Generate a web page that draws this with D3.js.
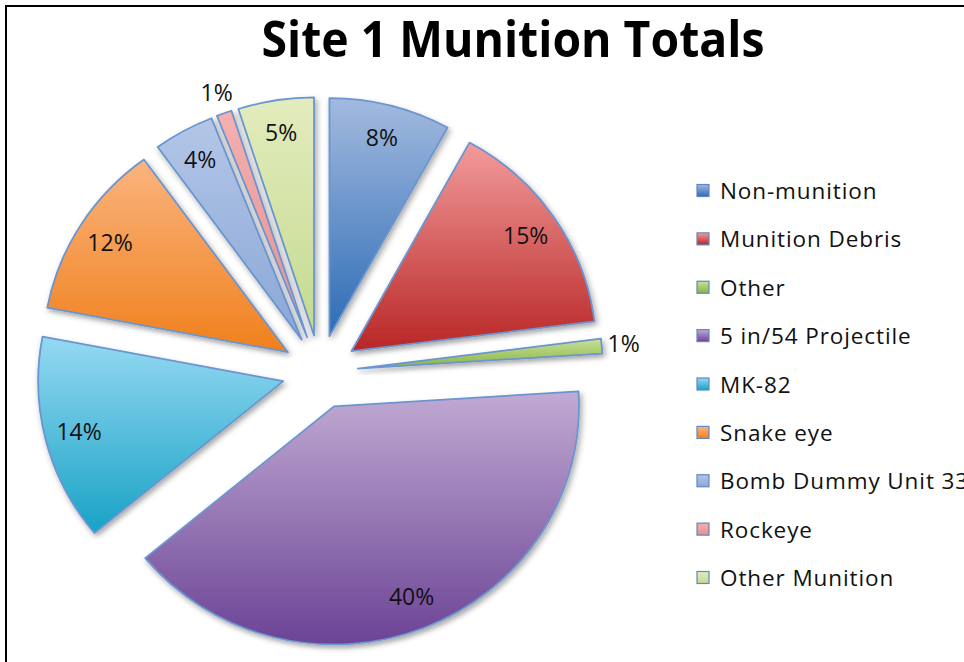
<!DOCTYPE html>
<html>
<head>
<meta charset="utf-8">
<script src="https://cdn.jsdelivr.net/npm/d3@7"></script>
<style>
  html, body { margin: 0; padding: 0; background: #fff; }
  svg { display: block; }
</style>
</head>
<body>
<svg id="chart" width="964" height="662"></svg>
<script>
// Munition categories found at Site 1 and their share of the total (%)
const categories = [
  "Non-munition", "Munition Debris", "Other", "5 in/54 Projectile",
  "MK-82", "Snake eye", "Bomb Dummy Unit 33", "Rockeye", "Other Munition"
];
const percentages = [8, 15, 1, 40, 14, 12, 4, 1, 5];

// Gradient stops per slice: lighter at the top, deeper at the bottom
const topColors    = ["#a3badf", "#f29c9b", "#c9e09a", "#c1aad3", "#95d9f3", "#fab47e", "#b3c6e6", "#f4b0af", "#e3ecbd"];
const bottomColors = ["#2c6cb5", "#b92626", "#86b43c", "#6b4395", "#18a2c5", "#f0801c", "#8aa7d7", "#e58f8e", "#c3da8f"];

const svg = d3.select("#chart");
const defs = svg.append("defs");

categories.forEach((c, i) => {
  const g = defs.append("linearGradient")
    .attr("id", "grad" + i)
    .attr("x1", 0).attr("y1", 0).attr("x2", 0).attr("y2", 1);
  g.append("stop").attr("offset", "0%").attr("stop-color", topColors[i]);
  g.append("stop").attr("offset", "100%").attr("stop-color", bottomColors[i]);
});

const shadow = defs.append("filter").attr("id", "shadow")
  .attr("x", "-20%").attr("y", "-20%").attr("width", "140%").attr("height", "140%");
shadow.append("feDropShadow")
  .attr("dx", 2).attr("dy", 3).attr("stdDeviation", 3)
  .attr("flood-color", "#000").attr("flood-opacity", 0.35);

// Chart frame
svg.append("rect")
  .attr("x", 6).attr("y", 6).attr("width", 1000).attr("height", 700)
  .attr("fill", "none").attr("stroke", "#000").attr("stroke-width", 2);

// Title
svg.append("text")
  .attr("x", 513).attr("y", 57)
  .attr("text-anchor", "middle")
  .attr("font-family", "'Open Sans', sans-serif")
  .attr("font-weight", 700)
  .attr("font-size", 51)
  .attr("textLength", 503)
  .attr("lengthAdjust", "spacingAndGlyphs")
  .attr("fill", "#000")
  .text("Site 1 Munition Totals");

// Exploded pie
const cx = 320, cy = 372, radius = 245, explode = 38, squash = 0.972;
const pie = d3.pie().sort(null).value(d => d);
const arcs = pie(percentages);
const arc = d3.arc().innerRadius(0).outerRadius(radius);

const pieG = svg.append("g")
  .attr("transform", `translate(${cx},${cy}) scale(1,${squash})`);

pieG.selectAll("path.slice")
  .data(arcs)
  .join("path")
  .attr("class", "slice")
  .attr("transform", d => {
    const a = (d.startAngle + d.endAngle) / 2;
    return `translate(${explode * Math.sin(a)},${-explode * Math.cos(a)})`;
  })
  .attr("d", arc)
  .attr("fill", (d, i) => `url(#grad${i})`)
  .attr("stroke", "#6b95d0")
  .attr("stroke-width", 1.8)
  .attr("stroke-linejoin", "round")
  .attr("filter", "url(#shadow)");

// Percentage labels: inside for normal slices, just outside for tiny ones
function labelPos(d) {
  const a = (d.startAngle + d.endAngle) / 2;
  const dist = explode + (d.value < 2 ? radius * 1.09 : radius * 0.86);
  return [cx + dist * Math.sin(a), cy - squash * dist * Math.cos(a)];
}

svg.append("g").selectAll("text")
  .data(arcs)
  .join("text")
  .attr("x", d => labelPos(d)[0])
  .attr("y", d => labelPos(d)[1])
  .attr("dy", "0.35em")
  .attr("text-anchor", "middle")
  .attr("font-family", "'Open Sans', sans-serif")
  .attr("font-size", 23)
  .attr("fill", "#111")
  .text(d => d.value + "%");

// Legend
const legendY = d3.scalePoint().domain(categories).range([191, 578]);
const legend = svg.append("g");
const items = legend.selectAll("g")
  .data(categories)
  .join("g")
  .attr("transform", d => `translate(697,${legendY(d)})`);

items.append("rect")
  .attr("x", 0).attr("y", -6.5).attr("width", 12).attr("height", 12)
  .attr("fill", (d, i) => `url(#grad${i})`)
  .attr("stroke", "#5f88c4").attr("stroke-width", 1.2);

items.append("text")
  .attr("x", 23).attr("y", 0).attr("dy", "0.36em")
  .attr("font-family", "'Open Sans', sans-serif")
  .attr("font-size", 22.5)
  .attr("letter-spacing", "0.9px")
  .attr("fill", "#111")
  .text(d => d);
</script>
</body>
</html>
